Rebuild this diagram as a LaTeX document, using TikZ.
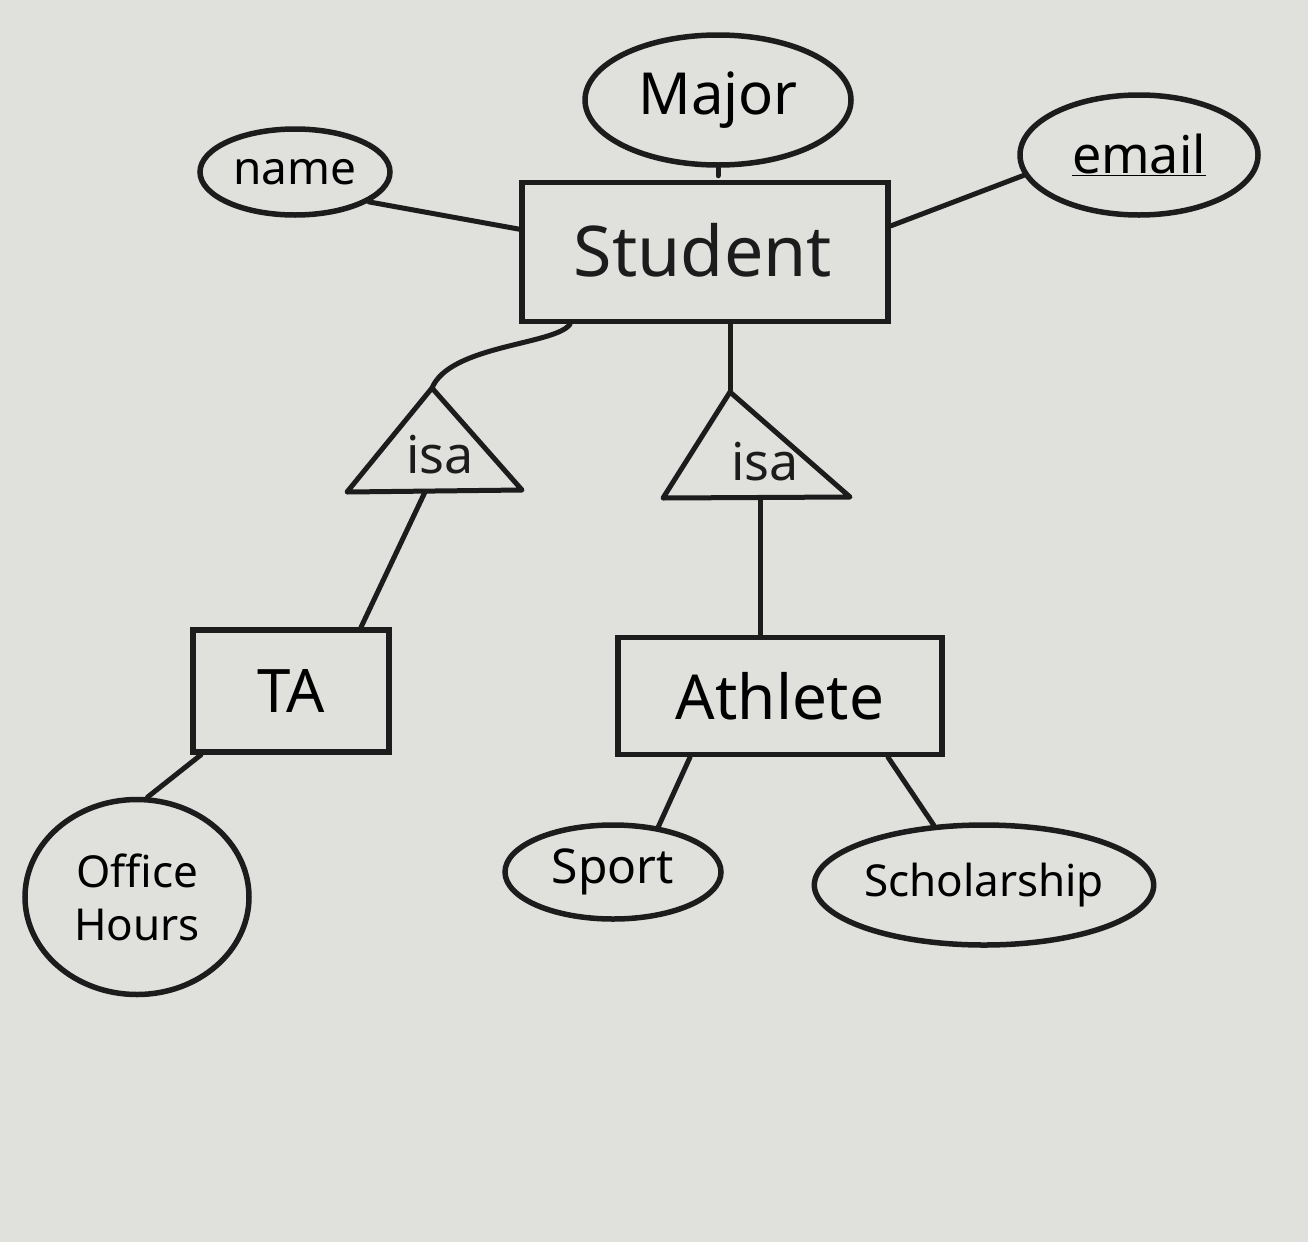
\documentclass[tikz,border=0pt]{standalone}
\usepackage{fontspec}
\setmainfont{Noto Sans}
\usetikzlibrary{shapes.geometric}
\definecolor{paper}{RGB}{224,224,221}
\definecolor{ink}{RGB}{28,28,28}
\tikzset{
  ent/.style={draw=ink, line width=5.5pt, rectangle, inner sep=0pt},
  attr/.style={draw=ink, line width=5.5pt, ellipse, inner sep=0pt},
  conn/.style={draw=ink, line width=5pt, line cap=round},
  lbl/.style={text=ink, inner sep=0pt},
}
\newcommand{\fs}[1]{\fontsize{#1}{1.2\dimexpr#1pt\relax}\selectfont}
\begin{document}
\begin{tikzpicture}[x=1pt,y=-1pt]
\fill[paper] (0,0) rectangle (1308,1242);
\useasboundingbox (0,0) rectangle (1308,1242);

% entities
\node[ent, minimum width=366pt, minimum height=139pt] (student) at (705,252) {};
\node[lbl] at (703,250) {\fs{70}Student};
\node[ent, minimum width=196pt, minimum height=122pt] (ta) at (291,691) {\fs{60}TA};
\node[ent, minimum width=324pt, minimum height=117pt] (athlete) at (780,696) {\fs{62}Athlete};

% attributes
\node[attr, minimum width=266pt, minimum height=130pt] (major) at (718,100) {\fs{58}Major};
\node[attr, minimum width=190pt, minimum height=86pt] (name) at (295,172) {\fs{46}name};
\node[attr, minimum width=238pt, minimum height=120pt] (email) at (1139,155) {\fs{52}\underline{email}};
\node[attr, minimum width=224pt, minimum height=195pt, align=center, font=\fs{44}] (office) at (137,897) {Office\\Hours};
\node[attr, minimum width=216pt, minimum height=94pt] (sport) at (613,872) {\fs{48}Sport};
\node[attr, minimum width=312pt, minimum height=120pt] (schol) at (984,885) {\fs{44}Scholarship};

% isa triangles
\coordinate (iLa) at (432,388);
\coordinate (iLb) at (347,492);
\coordinate (iLc) at (522,490);
\draw[conn, line join=round] (iLa) -- (iLb) -- (iLc) -- cycle;
\node[lbl] (isaL) at (440,455) {\fs{52}isa};
\coordinate (iLt) at (425,492);

\coordinate (iRa) at (730,392);
\coordinate (iRb) at (663,498);
\coordinate (iRc) at (850,497);
\draw[conn, line join=round] (iRa) -- (iRb) -- (iRc) -- cycle;
\node[lbl] (isaR) at (765,462) {\fs{52}isa};
\coordinate (iRt) at (760,498);

% connectors
\draw[conn] (major.south) -- ([yshift=-8pt]major.south);
\draw[conn] (name.-22) -- (student.173);
\draw[conn] (student.8) -- (email.190);
\draw[conn] ([xshift=-135pt]student.south) .. controls (555,345) and (450,345) .. (iLa);
\draw[conn] ([xshift=25pt]student.south) -- (iRa);
\draw[conn] (iLt) -- ([xshift=70pt]ta.north);
\draw[conn] (iRt) -- ([xshift=-20pt]athlete.north);
\draw[conn] ([xshift=-90pt]ta.south) -- (office.84);
\draw[conn] ([xshift=-90pt]athlete.south) -- (sport.45);
\draw[conn] ([xshift=108pt]athlete.south) -- (schol.130);
\end{tikzpicture}
\end{document}
